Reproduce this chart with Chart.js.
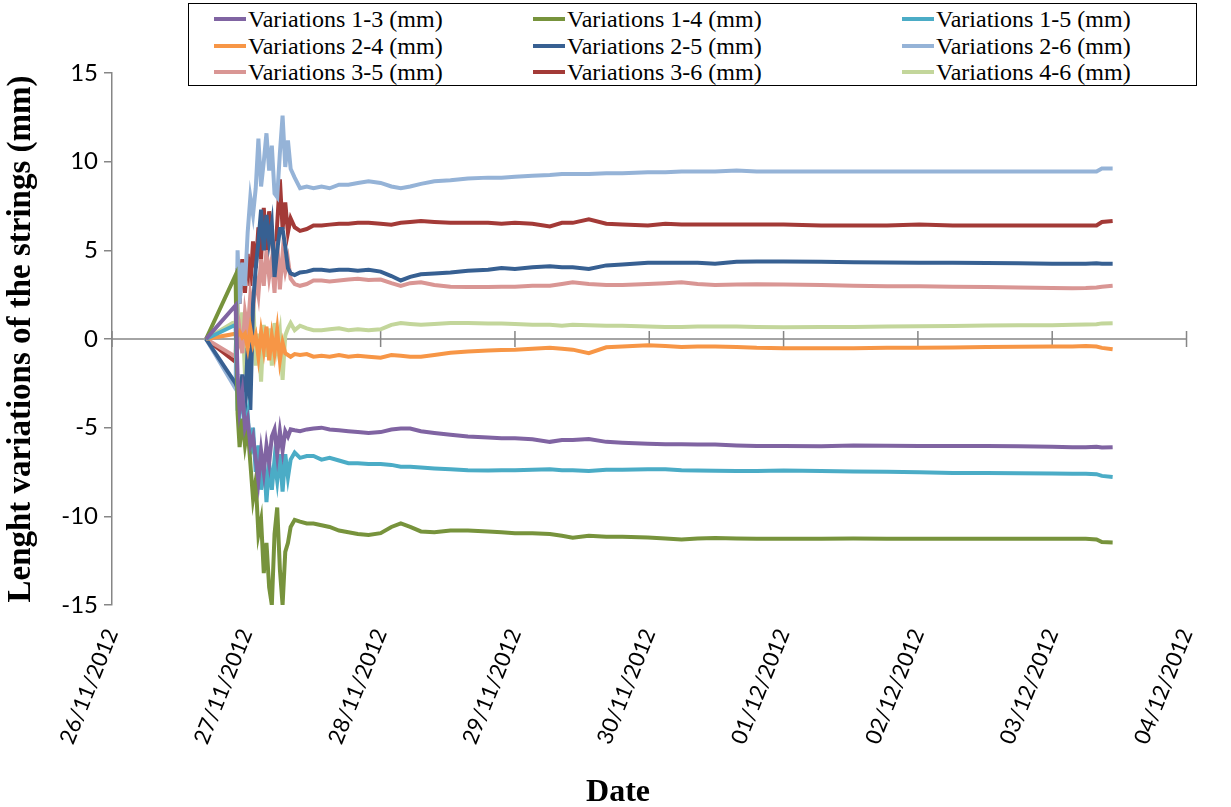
<!DOCTYPE html>
<html>
<head>
<meta charset="utf-8">
<script src="https://cdn.jsdelivr.net/npm/chart.js@4.4.1/dist/chart.umd.min.js"></script>
<style>
  body { margin: 0; background: #fff; }
  #wrap { position: relative; width: 1231px; height: 807px; }
  #legend {
    position: absolute; left: 188px; top: 3px; width: 1007px; height: 81px;
    border: 1.5px solid #000; background: #fff;
    font-family: "Liberation Serif", serif; font-size: 24px; color: #000;
  }
  .item { position: absolute; display: flex; align-items: center; white-space: nowrap; line-height: 1; }
  .item i { display: inline-block; width: 32px; height: 4px; margin-right: 2px; }
</style>
</head>
<body>
<div id="wrap">
  <canvas id="myChart" width="1231" height="807"></canvas>
  <div id="legend"></div>
</div>
<script>
// time in days since 26/11/2012 00:00
const days = [0.70, 0.92, 0.935, 0.95, 0.97, 0.99, 1.01, 1.03, 1.05, 1.07,
  1.09, 1.11, 1.13, 1.15, 1.17, 1.19, 1.21, 1.23, 1.25, 1.27,
  1.29, 1.31, 1.33, 1.36, 1.40, 1.45, 1.50, 1.56, 1.62, 1.69,
  1.76, 1.83, 1.91, 2.00, 2.08, 2.15, 2.22, 2.30, 2.40, 2.52,
  2.65, 2.80, 2.90, 3.00, 3.13, 3.26, 3.35, 3.43, 3.55, 3.68,
  3.80, 3.99, 4.12, 4.24, 4.36, 4.49, 4.65, 4.80, 5.00, 5.28,
  5.52, 5.77, 6.01, 6.26, 6.51, 6.75, 7.00, 7.15, 7.25, 7.33,
  7.37, 7.45];

const dayLabels = ['26/11/2012', '27/11/2012', '28/11/2012', '29/11/2012', '30/11/2012',
  '01/12/2012', '02/12/2012', '03/12/2012', '04/12/2012'];

const var13 = [0, 1.9, -2.0, -4.0, -3.0, -5.0, -4.5, -6.0, -5.5, -6.8,
  -8.0, -6.3, -7.5, -6.0, -7.0, -5.5, -5.1, -6.5, -5.2, -6.3,
  -5.2, -5.5, -5.1, -5.15, -5.2, -5.1, -5.05, -5.0, -5.1, -5.15,
  -5.2, -5.25, -5.3, -5.25, -5.1, -5.05, -5.05, -5.2, -5.3, -5.4,
  -5.5, -5.55, -5.6, -5.6, -5.65, -5.8, -5.7, -5.7, -5.64, -5.8,
  -5.85, -5.9, -5.93, -5.93, -5.95, -5.95, -6.0, -6.03, -6.03, -6.05,
  -6.0, -6.02, -6.03, -6.03, -6.03, -6.05, -6.08, -6.1, -6.1, -6.08,
  -6.12, -6.1];

const var14 = [0, 3.6, -4.2, -6.1, -4.5, -6.0, -5.0, -7.0, -9.0, -8.0,
  -11.0, -10.2, -13.2, -11.5, -14.0, -15.0, -11.0, -9.5, -13.0, -15.0,
  -12.0, -11.5, -10.6, -10.2, -10.3, -10.4, -10.4, -10.5, -10.6, -10.8,
  -10.9, -11.0, -11.05, -10.95, -10.6, -10.4, -10.6, -10.85, -10.9, -10.8,
  -10.8, -10.85, -10.9, -10.95, -10.95, -11.0, -11.1, -11.2, -11.1, -11.15,
  -11.15, -11.2, -11.25, -11.3, -11.25, -11.22, -11.25, -11.26, -11.27, -11.26,
  -11.25, -11.26, -11.27, -11.27, -11.27, -11.27, -11.27, -11.27, -11.27, -11.3,
  -11.45, -11.47];

const var15 = [0, 0.8, -4.0, -4.3, -3.0, -5.0, -4.2, -6.5, -5.0, -7.5,
  -6.0, -8.5, -6.5, -9.2, -7.0, -8.5, -6.8, -8.0, -6.5, -8.6,
  -6.5, -7.8, -6.8, -6.4, -6.7, -6.6, -6.6, -6.8, -6.7, -6.85,
  -7.0, -7.0, -7.05, -7.05, -7.1, -7.2, -7.2, -7.25, -7.3, -7.35,
  -7.4, -7.42, -7.4, -7.4, -7.38, -7.35, -7.4, -7.4, -7.45, -7.38,
  -7.38, -7.35, -7.35, -7.4, -7.42, -7.43, -7.44, -7.44, -7.42, -7.44,
  -7.47, -7.48, -7.52, -7.55, -7.56, -7.57, -7.58, -7.6, -7.6, -7.62,
  -7.72, -7.78];

const var24 = [0, 0.3, 0.2, 0.4, 0.1, 0.3, -0.5, 0.6, -0.3, 0.2,
  -1.0, 0.4, -0.6, 0.7, -1.2, 0.2, -0.8, 0.5, -1.2, -0.2,
  -0.8, -0.9, -1.0, -0.85, -0.9, -0.85, -1.0, -0.95, -1.0, -0.9,
  -1.0, -0.95, -1.0, -1.05, -0.9, -0.95, -1.0, -1.0, -0.9, -0.77,
  -0.7, -0.65, -0.62, -0.6, -0.55, -0.5, -0.55, -0.6, -0.8, -0.47,
  -0.42, -0.35, -0.4, -0.45, -0.42, -0.42, -0.45, -0.5, -0.52, -0.52,
  -0.52, -0.5, -0.5, -0.48, -0.45, -0.43, -0.42, -0.42, -0.4, -0.42,
  -0.5, -0.58];

const var25 = [0, -2.5, -2.8, -3.5, -2.0, -4.2, -0.5, -4.0, 2.0, 4.0,
  5.5, 7.3, 5.0, 7.0, 5.5, 6.5, 3.5, 5.0, 6.2, 6.2,
  5.2, 4.0, 3.7, 3.6, 3.75, 3.8, 3.9, 3.9, 3.85, 3.9,
  3.9, 3.85, 3.9, 3.8, 3.55, 3.3, 3.5, 3.65, 3.7, 3.75,
  3.85, 3.9, 4.0, 3.95, 4.05, 4.1, 4.05, 4.05, 3.95, 4.15,
  4.2, 4.3, 4.3, 4.3, 4.3, 4.25, 4.35, 4.37, 4.37, 4.35,
  4.33, 4.32, 4.3, 4.3, 4.28, 4.27, 4.25, 4.25, 4.25, 4.27,
  4.25, 4.25];

const var26 = [0, -2.8, 5.0, 2.0, 4.3, 3.0, 6.0, 8.0, 7.0, 8.5,
  11.3, 8.6, 10.0, 11.6, 9.5, 10.9, 8.2, 8.0, 10.5, 12.6,
  9.7, 11.2, 9.6, 9.1, 8.5, 8.6, 8.5, 8.6, 8.5, 8.7,
  8.7, 8.8, 8.9, 8.8, 8.6, 8.5, 8.6, 8.75, 8.9, 8.95,
  9.05, 9.1, 9.1, 9.15, 9.2, 9.25, 9.3, 9.3, 9.3, 9.35,
  9.35, 9.4, 9.4, 9.45, 9.45, 9.45, 9.5, 9.45, 9.45, 9.45,
  9.45, 9.45, 9.45, 9.45, 9.45, 9.45, 9.45, 9.45, 9.45, 9.45,
  9.62, 9.62];

const var35 = [0, -1.0, -0.5, 0.5, -0.8, 1.5, 0.5, 2.5, 1.5, 3.5,
  2.5, 4.5, 3.0, 5.0, 3.5, 4.5, 2.6, 5.5, 2.8, 4.8,
  3.8, 4.5, 3.4, 3.1, 3.0, 3.1, 3.3, 3.3, 3.25, 3.3,
  3.35, 3.4, 3.33, 3.35, 3.15, 3.0, 3.15, 3.2, 3.05, 2.95,
  2.93, 2.93, 2.95, 2.95, 3.0, 3.0, 3.1, 3.2, 3.1, 3.05,
  3.05, 3.1, 3.15, 3.2, 3.1, 3.05, 3.07, 3.09, 3.08, 3.05,
  3.0, 2.98, 2.97, 2.95, 2.93, 2.9, 2.87, 2.86, 2.87, 2.9,
  2.95, 3.0];

const var36 = [0, -1.3, 4.0, 2.0, 4.5, 2.6, 4.8, 3.0, 5.5, 4.0,
  6.3, 4.5, 7.4, 5.0, 7.2, 5.8, 3.5, 6.5, 9.0, 6.2,
  7.7, 6.0, 6.8, 6.3, 6.1, 6.2, 6.4, 6.4, 6.45, 6.5,
  6.5, 6.55, 6.55, 6.5, 6.45, 6.55, 6.6, 6.65, 6.6, 6.55,
  6.55, 6.55, 6.5, 6.55, 6.5, 6.35, 6.55, 6.55, 6.75, 6.5,
  6.45, 6.4, 6.5, 6.45, 6.45, 6.45, 6.45, 6.45, 6.45, 6.4,
  6.4, 6.4, 6.45, 6.4, 6.4, 6.4, 6.4, 6.4, 6.4, 6.4,
  6.6, 6.65];

const var46 = [0, 1.0, 2.2, -0.5, 1.5, -2.0, 0.5, -1.2, 2.5, -1.5,
  0.3, -2.4, 0.8, -1.0, 0.6, -1.5, 0.9, -0.5, 0.4, -2.3,
  0.2, 0.6, 0.9, 0.5, 0.75, 0.6, 0.5, 0.5, 0.55, 0.6,
  0.5, 0.55, 0.5, 0.55, 0.8, 0.9, 0.85, 0.8, 0.85, 0.9,
  0.9, 0.88, 0.87, 0.85, 0.8, 0.8, 0.75, 0.8, 0.78, 0.75,
  0.75, 0.7, 0.68, 0.68, 0.7, 0.7, 0.7, 0.68, 0.66, 0.68,
  0.68, 0.7, 0.72, 0.74, 0.76, 0.77, 0.78, 0.8, 0.82, 0.83,
  0.88, 0.89];

const seriesNames = ['Variations 1-3 (mm)', 'Variations 1-4 (mm)', 'Variations 1-5 (mm)',
  'Variations 2-4 (mm)', 'Variations 2-5 (mm)', 'Variations 2-6 (mm)',
  'Variations 3-5 (mm)', 'Variations 3-6 (mm)', 'Variations 4-6 (mm)'];
const seriesValues = [var13, var14, var15, var24, var25, var26, var35, var36, var46];
const seriesColors = ['#8064A2', '#77933C', '#4BACC6', '#F79646', '#376092', '#95B3D7',
  '#D99694', '#A33A37', '#C3D69B'];

// html legend, 3 columns x 3 rows
const legendBox = document.getElementById('legend');
const colLeft = [25, 344, 713];
const rowTop = [3, 30, 56];
seriesNames.forEach(function (name, i) {
  const item = document.createElement('div');
  item.className = 'item';
  item.style.left = colLeft[i % 3] + 'px';
  item.style.top = rowTop[Math.floor(i / 3)] + 'px';
  item.innerHTML = '<i style="background:' + seriesColors[i] + '"></i><span>' + name + '</span>';
  legendBox.appendChild(item);
});

// axis line through zero with cross tick marks, plus the x title
const zeroAxis = {
  id: 'zeroAxis',
  beforeDatasetsDraw(chart) {
    const ctx = chart.ctx;
    const area = chart.chartArea;
    const x = chart.scales.x;
    const y0 = chart.scales.y.getPixelForValue(0);
    ctx.save();
    ctx.strokeStyle = '#868686';
    ctx.lineWidth = 1.5;
    ctx.beginPath();
    ctx.moveTo(area.left, y0);
    ctx.lineTo(area.right, y0);
    x.ticks.forEach(function (t) {
      const px = x.getPixelForValue(t.value);
      ctx.moveTo(px, y0 - 8);
      ctx.lineTo(px, y0 + 8);
    });
    ctx.stroke();
    ctx.restore();
  },
  afterDraw(chart) {
    const ctx = chart.ctx;
    ctx.save();
    ctx.fillStyle = '#000';
    ctx.font = 'bold 32px "Liberation Serif"';
    ctx.textAlign = 'center';
    ctx.textBaseline = 'alphabetic';
    ctx.fillText('Date', 618, 801);
    ctx.restore();
  }
};

const ctx = document.getElementById('myChart');

new Chart(ctx, {
  type: 'line',
  data: {
    datasets: seriesNames.map(function (name, i) {
      return {
        label: name,
        data: days.map(function (d, j) { return { x: d, y: seriesValues[i][j] }; }),
        borderColor: seriesColors[i],
        backgroundColor: seriesColors[i],
        borderWidth: 4,
        pointRadius: 0,
        tension: 0,
        fill: false
      };
    })
  },
  options: {
    responsive: false,
    animation: false,
    layout: { padding: { top: 73, right: 35, left: 0, bottom: 0 } },
    plugins: {
      legend: { display: false },
      tooltip: { enabled: false }
    },
    scales: {
      x: {
        type: 'linear',
        min: 0,
        max: 8,
        grid: { display: false, drawTicks: false },
        border: { display: false },
        ticks: {
          stepSize: 1,
          autoSkip: false,
          minRotation: 68,
          maxRotation: 68,
          padding: 20,
          color: '#000',
          font: { family: 'Lato', size: 22 },
          callback: function (v) { return dayLabels[v]; }
        },
        afterFit: function (scale) { scale.height = 202; }
      },
      y: {
        min: -15,
        max: 15,
        grid: { drawOnChartArea: false, drawTicks: true, tickLength: 8, color: '#868686', lineWidth: 1.5 },
        border: { color: '#868686', width: 1.5 },
        ticks: {
          stepSize: 5,
          padding: 6,
          color: '#000',
          font: { family: 'Lato', size: 24 }
        },
        title: {
          display: true,
          text: 'Lenght variations of the strings (mm)',
          color: '#000',
          font: { family: 'Liberation Serif', size: 33, weight: 'bold' },
          padding: { top: 2, bottom: 0 }
        },
        afterFit: function (scale) { scale.width = 112; }
      }
    }
  },
  plugins: [zeroAxis]
});
</script>
</body>
</html>
